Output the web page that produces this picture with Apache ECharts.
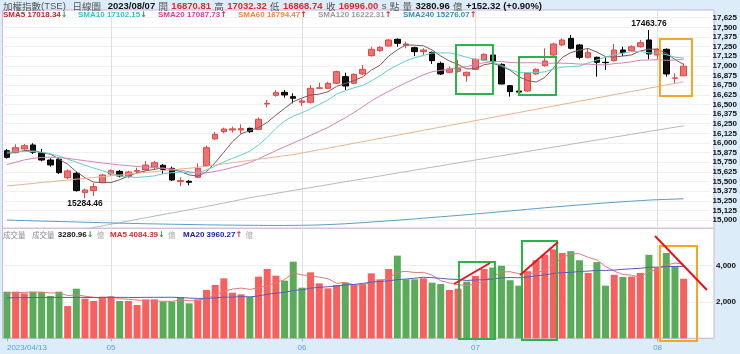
<!DOCTYPE html>
<html><head><meta charset="utf-8">
<script src="https://cdn.jsdelivr.net/npm/echarts@6/dist/echarts.min.js"></script>
<style>html,body{margin:0;padding:0;background:#dcedf9;}#c{width:740px;height:354px;}</style>
</head><body><div id="c"></div>
<script>
// ---------------- data ----------------
const dates = ['2023/04/13','2023/04/14','2023/04/17','2023/04/18','2023/04/19','2023/04/20','2023/04/21','2023/04/24','2023/04/25','2023/04/26','2023/04/27','2023/04/28',
'2023/05/02','2023/05/03','2023/05/04','2023/05/05','2023/05/08','2023/05/09','2023/05/10','2023/05/11','2023/05/12','2023/05/15','2023/05/16','2023/05/17','2023/05/18','2023/05/19','2023/05/22','2023/05/23','2023/05/24','2023/05/25','2023/05/26','2023/05/29','2023/05/30','2023/05/31',
'2023/06/01','2023/06/02','2023/06/05','2023/06/06','2023/06/07','2023/06/08','2023/06/09','2023/06/12','2023/06/13','2023/06/14','2023/06/15','2023/06/16','2023/06/19','2023/06/20','2023/06/21','2023/06/26','2023/06/27','2023/06/28','2023/06/29','2023/06/30',
'2023/07/03','2023/07/04','2023/07/05','2023/07/06','2023/07/07','2023/07/10','2023/07/11','2023/07/12','2023/07/13','2023/07/14','2023/07/17','2023/07/18','2023/07/19','2023/07/20','2023/07/21','2023/07/24','2023/07/25','2023/07/26','2023/07/27','2023/07/28','2023/07/31',
'2023/08/01','2023/08/02','2023/08/04','2023/08/07'];
const opens = [15900,15874,15922,15974,15874,15779,15788,15550,15607,15356,15382,15485,15598,15632,15563,15632,15650,15684,15710,15671,15498,15503,15555,15706,16052,16147,16168,16168,16190,16177,16505,16618,16657,16601,16527,16527,16709,16709,16774,16860,16774,16895,17133,17198,17258,17345,17267,17236,17185,17176,17033,16917,16930,16873,16955,17076,17141,17020,16743,16674,16674,16895,17003,17141,17271,17357,17271,17111,17111,17046,17068,17206,17198,17249,17336,17141,17215,16839,16870.81];
const highs = [15922,15983,15987,15996,15922,15801,15801,15658,15628,15408,15477,15598,15658,15650,15641,15680,15766,15766,15727,15693,15555,15520,15736,15965,16143,16199,16212,16242,16199,16333,16558,16687,16687,16644,16570,16752,16782,16795,16938,16912,16903,17012,17249,17258,17349,17357,17314,17249,17228,17185,17055,16990,17076,16925,17098,17163,17163,17033,16752,16709,16912,16968,17228,17301,17357,17401,17284,17228,17120,17107,17284,17249,17267,17336,17463.76,17228,17228,16903,17032.32];
const lows = [15797,15866,15900,15857,15762,15693,15598,15529,15369,15284.46,15313,15477,15572,15555,15542,15598,15641,15650,15598,15507,15442,15451,15546,15693,16039,16125,16134,16121,16130,16168,16462,16601,16588,16514,16480,16514,16700,16700,16765,16687,16765,16882,17120,17185,17249,17249,17228,17128,17141,17025,16882,16904,16912,16795,16947,17068,17042,16761,16601,16636,16666,16882,16990,17128,17258,17215,17085,17098,16860,16947,17055,17128,17185,17236,17085,17085,16860,16765,16868.74];
const closes = [15814,15939,15965,15879,15779,15715,15615,15637,15382,15390,15434,15585,15641,15572,15624,15641,15714,15745,15658,15520,15512,15490,15671,15939,16112,16181,16183,16186,16147,16307,16514,16653,16623,16580,16545,16709,16715,16774,16925,16739,16890,16955,17215,17241,17336,17293,17284,17185,17206,17068,16895,16960,16965,16917,17085,17150,17055,16765,16666,16660,16903,16955,17063,17284,17336,17228,17111,17172,17046,17042,17206,17172,17249,17301,17154,17215,16895,16843.68,16996.00];
const volumes = [2569,2569,2477,2569,2550,2330,2569,1779,2734,2183,2054,2293,2293,2054,2054,1834,2146,2146,2018,2018,2256,1926,2146,2660,2936,3303,2514,2422,2293,3395,3818,3450,3175,4222,2789,3634,3028,2752,2936,3065,2936,2991,3579,3248,3818,4553,3248,3248,3303,3065,2991,2660,2734,3120,3432,3818,3900,4000,3200,2900,3700,4300,4600,4900,4700,4800,4300,3600,4200,2900,3500,3383,3400,3600,4600,3900,4700,3941,3280.96];
const sma5 = [15860,15880,15900,15905,15875,15855,15791,15725,15626,15548,15492,15486,15486,15524,15571,15613,15638,15659,15676,15656,15630,15585,15570,15626,15745,15879,16017,16120,16161,16200,16267,16361,16449,16535,16583,16622,16634,16665,16734,16772,16809,16857,16945,17008,17127,17208,17274,17268,17261,17207,17128,17063,17019,16961,16964,17015,17034,16994,16944,16859,16810,16790,16849,16973,17108,17173,17204,17226,17179,17120,17115,17128,17143,17194,17216,17218,17163,17082,17018.34];
const sma10 = [15880,15885,15890,15888,15880,15860,15830,15790,15750,15712,15674,15639,15606,15575,15560,15553,15562,15573,15600,15614,15622,15612,15615,15651,15701,15755,15801,15845,15894,15973,16073,16189,16285,16348,16392,16445,16498,16557,16635,16678,16716,16746,16805,16871,16950,17009,17066,17107,17135,17167,17168,17169,17144,17111,17086,17072,17049,17007,16953,16912,16913,16912,16922,16959,16984,16992,16997,17038,17076,17114,17144,17166,17185,17187,17168,17167,17146,17113,17102.15];
const sma20 = [15720,15750,15780,15800,15812,15815,15810,15800,15785,15770,15755,15740,15728,15715,15705,15695,15688,15680,15672,15663,15648,15626,15611,15613,15631,15654,15682,15709,15747,15794,15848,15901,15950,16000,16047,16100,16150,16201,16265,16326,16395,16468,16545,16610,16671,16727,16782,16832,16885,16923,16942,16958,16975,16991,17018,17041,17058,17057,17044,17040,17041,17041,17033,17035,17035,17032,17023,17023,17015,17013,17029,17039,17054,17073,17076,17080,17072,17076,17087.73];
const sma60 = [15442,15452,15464,15474,15487,15496,15509,15518,15531,15540,15553,15562,15575,15584,15597,15606,15619,15628,15641,15650,15663,15672,15685,15698,15715,15728,15745,15758,15775,15788,15805,15818,15835,15848,15871,15890,15913,15932,15955,15974,15997,16016,16039,16058,16081,16100,16123,16142,16165,16184,16207,16226,16249,16268,16291,16310,16333,16352,16375,16394,16417,16436,16459,16478,16501,16520,16543,16562,16585,16604,16627,16646,16669,16688,16711,16730,16753,16772,16794.47];
const sma120 = [14690,14712,14735,14756,14776,14798,14819,14840,14860,14881,14903,14925,14946,14966,14987,15009,15030,15051,15072,15092,15113,15134,15154,15176,15198,15220,15243,15266,15290,15309,15327,15346,15365,15384,15403,15421,15440,15459,15478,15497,15516,15535,15553,15572,15591,15610,15629,15648,15667,15686,15704,15723,15742,15761,15779,15798,15816,15834,15853,15871,15890,15908,15927,15946,15964,15983,16002,16020,16039,16057,16076,16094,16113,16131,16150,16168,16186,16204,16222.31];
const sma240 = [15000,14997,14994,14990,14987,14984,14981,14978,14975,14972,14969,14966,14963,14960,14957,14955,14952,14950,14948,14946,14944,14942,14940,14938,14937,14935,14934,14933,14932,14931,14930,14930,14930,14931,14932,14934,14937,14941,14946,14952,14959,14966,14974,14982,14990,14998,15006,15015,15024,15033,15042,15051,15060,15069,15079,15089,15099,15109,15119,15129,15139,15149,15159,15169,15178,15187,15196,15205,15214,15222,15230,15238,15245,15252,15259,15264,15268,15272,15276.07];
const volMa5 = [2500,2520,2530,2540,2547,2499,2499,2359,2392,2319,2264,2209,2311,2175,2150,2106,2076,2047,2040,2032,2117,2073,2073,2201,2385,2594,2712,2767,2694,2785,2888,3076,3226,3612,3491,3454,3370,3285,3028,3083,2943,2936,3101,3164,3314,3638,3689,3623,3634,3483,3171,3053,2951,2914,2987,3153,3401,3654,3670,3564,3540,3620,3740,4080,4440,4660,4660,4460,4320,3960,3700,3517,3477,3357,3697,3777,4040,4148,4084.39];
const volMa20 = [2230,2235,2240,2245,2250,2250,2255,2250,2255,2250,2245,2250,2255,2255,2250,2250,2255,2258,2260,2262,2247,2214,2198,2202,2222,2270,2268,2300,2278,2338,2426,2484,2528,2637,2673,2763,2808,2838,2884,2936,2970,3024,3095,3125,3168,3231,3268,3309,3360,3343,3302,3262,3240,3185,3217,3226,3270,3332,3346,3337,3376,3441,3492,3575,3619,3631,3684,3701,3746,3738,3763,3800,3833,3857,3915,3919,3959,3956,3960.27];
const maNames = ['SMA5','SMA10','SMA20','SMA60','SMA120','SMA240'];
const monthStarts = ['2023/04/13','2023/05/02','2023/06/01','2023/07/03','2023/08/01'];
const monthLabels = ['2023/04/13','05','06','07','08'];
const priceTickMin = 15000, priceTickMax = 17625, priceTickStep = 125;
const volTickMin = 2000, volTickMax = 4000, volTickStep = 2000;
// annotations (x in bar-index units, y in axis units)
const upperBoxes = [[51.76,17271,56.02,16635,'g'],[59.02,17115,63.29,16622,'g'],[75.27,17349,78.96,16609,'o']];
const lowerBoxes = [[52.1,4204,56.25,-39,'g'],[59.37,5361,63.4,-94,'g'],[75.27,5085,79.54,-149,'o']];
const trendLines = [[51.53,2992,55.68,4149],[59.14,3488,63.52,5306],[74.7,5636,80.69,2661]];

// ---------------- styles ----------------
const SLOTS = 82;
const L = 2.6, W = 711.4;
const FONT = '"Liberation Sans", Arial, sans-serif';
const CJK = '"Noto Sans CJK TC","Noto Sans CJK SC",sans-serif';
const UP = '#f37070', UPB = '#e04848', DN = '#111111', DNB = '#000000';
const VUP = '#f95f5f', VDN = '#5aac5a';
const GREEN = '#2bb24c', ORANGE = '#f5a623', RED = '#e8141c';
const maLineColors = ['#7d5a5a','#62cfcf','#d383b9','#e9b38c','#b9b9b9','#5a9ec8'];
const maTextColors = ['#c0262c','#2fc3c3','#e2379a','#f08646','#9a9a9a','#2f8cc2'];
const maX = [3,78,158,238,318,403];

const isMonth = (i, v) => monthStarts.indexOf(v) >= 0;
const volColors = volumes.map((v, i) => (closes[i] >= (i > 0 ? closes[i-1] : opens[0])) ? VUP : VDN);
let hiIdx = 0, loIdx = 0;
highs.forEach((h, i) => { if (h > highs[hiIdx]) hiIdx = i; });
lows.forEach((l, i) => { if (l < lows[loIdx]) loIdx = i; });
const N = dates.length - 1;
const mas = [sma5, sma10, sma20, sma60, sma120, sma240];
const arrow = (a) => a[N] >= a[N-1] ? '{au|↑}' : '{ad|↓}';

const chart = echarts.init(document.getElementById('c'), null, {renderer: 'canvas', width: 740, height: 354});

const monthLineData = monthStarts.slice(1).map(d => ({xAxis: d}));
const monthLine = {silent: true, symbol: ['none','none'], label: {show: false}, z: 1,
  lineStyle: {color: '#e0e0e0', width: 1, type: 'solid'}, emphasis: {disabled: true}, data: monthLineData};

const series = [];
series.push({type: 'line', xAxisIndex: 0, yAxisIndex: 0, data: [], silent: true, markLine: monthLine});
series.push({type: 'line', xAxisIndex: 1, yAxisIndex: 1, data: [], silent: true, markLine: monthLine});
series.push({
  type: 'candlestick', xAxisIndex: 0, yAxisIndex: 0, z: 3, barWidth: 6,
  data: dates.map((d, i) => [opens[i], closes[i], lows[i], highs[i]]),
  itemStyle: {color: UP, color0: DN, borderColor: UPB, borderColor0: DNB, borderWidth: 1},
  markPoint: {
    symbol: 'rect', symbolSize: [1,1], itemStyle: {color: 'rgba(0,0,0,0)'}, silent: true,
    label: {show: true, color: '#111', fontWeight: 'bold', fontSize: 8.5, fontFamily: FONT},
    data: [
      {coord: [dates[hiIdx], highs[hiIdx]], label: {position: 'top', distance: 1, formatter: highs[hiIdx].toFixed(2)}},
      {coord: [dates[loIdx], lows[loIdx]], label: {position: 'bottom', distance: 1, formatter: lows[loIdx].toFixed(2)}}
    ]
  }
});
mas.forEach((arr, k) => series.push({type: 'line', xAxisIndex: 0, yAxisIndex: 0, data: arr, symbol: 'none', z: 4,
  lineStyle: {width: 1, color: maLineColors[k]}, silent: true}));
series.push({type: 'bar', xAxisIndex: 1, yAxisIndex: 1, barWidth: 7, z: 2,
  data: volumes.map((v, i) => ({value: v, itemStyle: {color: volColors[i]}}))});
series.push({type: 'line', xAxisIndex: 1, yAxisIndex: 1, data: volMa5, symbol: 'none', z: 4, lineStyle: {width: 1, color: '#e07a7a'}, silent: true});
series.push({type: 'line', xAxisIndex: 1, yAxisIndex: 1, data: volMa20, symbol: 'none', z: 4, lineStyle: {width: 1, color: '#5a5ab8'}, silent: true});
const boxColor = c => c === 'g' ? GREEN : ORANGE;
series.push({type: 'line', xAxisIndex: 2, yAxisIndex: 0, data: [], silent: true,
  markArea: {silent: true, z: 10, itemStyle: {color: 'rgba(0,0,0,0)', borderWidth: 2},
    data: upperBoxes.map(b => [{coord: [b[0], b[1]], itemStyle: {borderColor: boxColor(b[4]), borderWidth: 2, color: 'rgba(0,0,0,0)'}}, {coord: [b[2], b[3]]}])}});
series.push({type: 'line', xAxisIndex: 5, yAxisIndex: 4, data: [], silent: true,
  markArea: {silent: true, z: 10, itemStyle: {color: 'rgba(0,0,0,0)', borderWidth: 2},
    data: lowerBoxes.map(b => [{coord: [b[0], b[1]], itemStyle: {borderColor: boxColor(b[4]), borderWidth: 2, color: 'rgba(0,0,0,0)'}}, {coord: [b[2], b[3]]}])},
  markLine: {silent: true, z: 11, symbol: ['none','none'], label: {show: false}, lineStyle: {color: RED, width: 2, type: 'solid'},
    data: trendLines.map(t => [{coord: [t[0], t[1]]}, {coord: [t[2], t[3]]}])}});

const hdrRich = {
  g: {fill: '#555', fontSize: 9.5, fontFamily: CJK},
  gl: {fill: '#555', fontSize: 9.5, fontFamily: FONT},
  b: {fill: '#111', fontSize: 9.5, fontWeight: 'bold', fontFamily: FONT},
  r: {fill: '#e3262b', fontSize: 9.5, fontWeight: 'bold', fontFamily: FONT}
};
const chg = closes[N] - closes[N-1];
const pct = chg / closes[N-1] * 100;
const header = '{g|加權指數}{gl|(TSE)}  {g|日線圖}  {b|' + dates[N] + '} {g|開} {r|' + opens[N].toFixed(2) + '} {g|高} {r|' + highs[N].toFixed(2) +
  '} {g|低} {r|' + lows[N].toFixed(2) + '} {g|收} {r|' + closes[N].toFixed(2) + '} {gl|s} {g|點} {g|量} {b|' + volumes[N].toFixed(2) + '} {g|億} {b|' +
  (chg >= 0 ? '+' : '') + chg.toFixed(2) + ' (' + (pct >= 0 ? '+' : '') + pct.toFixed(2) + '%)}';

const arrowRich = {au: {fill: '#e02020', fontSize: 8, fontWeight: 'bold', fontFamily: '"DejaVu Sans"'}, ad: {fill: '#2a9a3a', fontSize: 8, fontWeight: 'bold', fontFamily: '"DejaVu Sans"'}};
const graphics = [{type: 'text', x: 3, y: 6, silent: true, style: {text: header, rich: hdrRich, verticalAlign: 'middle'}}];
maNames.forEach((n, k) => {
  const rich = Object.assign({n: {fill: maTextColors[k], fontSize: 8, fontWeight: 'bold', fontFamily: FONT}}, arrowRich);
  graphics.push({type: 'text', x: maX[k], y: 15, silent: true, z: 20,
    style: {text: '{n|' + n + ' ' + mas[k][N].toFixed(2) + '}' + arrow(mas[k]), rich: rich, verticalAlign: 'middle'}});
});
const volRich = Object.assign({
  g: {fill: '#8a8a8a', fontSize: 7.5, fontFamily: CJK},
  u: {fill: '#a8a8a8', fontSize: 7.5, fontFamily: CJK},
  b: {fill: '#111', fontSize: 8, fontWeight: 'bold', fontFamily: FONT},
  r: {fill: '#e02a2a', fontSize: 8, fontWeight: 'bold', fontFamily: FONT},
  bl: {fill: '#2020b0', fontSize: 8, fontWeight: 'bold', fontFamily: FONT}
}, arrowRich);
graphics.push({type: 'text', x: 3, y: 235, z: 20, silent: true, style: {text: '{g|成交量}', rich: volRich, verticalAlign: 'middle'}});
graphics.push({type: 'text', x: 32, y: 235, z: 20, silent: true, style: {text: '{g|成交量} {b|' + volumes[N].toFixed(2) + '}' + arrow(volumes) + ' {u|億}', rich: volRich, verticalAlign: 'middle'}});
graphics.push({type: 'text', x: 110, y: 235, z: 20, silent: true, style: {text: '{r|MA5 ' + volMa5[N].toFixed(2) + '}' + arrow(volMa5) + ' {u|億}', rich: volRich, verticalAlign: 'middle'}});
graphics.push({type: 'text', x: 183, y: 235, z: 20, silent: true, style: {text: '{bl|MA20 ' + volMa20[N].toFixed(2) + '}' + arrow(volMa20) + ' {u|億}', rich: volRich, verticalAlign: 'middle'}});

const rightLabel = {margin: 2, color: '#111', fontWeight: 'bold', fontSize: 8, fontFamily: FONT};
const option = {
  backgroundColor: '#dcedf9',
  animation: false,
  grid: [
    {left: L, width: W, top: 10, height: 218.3, show: true, backgroundColor: '#fff', borderColor: '#cdb2da', borderWidth: 1},
    {left: L, width: W, top: 228.3, height: 110, show: true, backgroundColor: '#fff', borderColor: '#cdb2da', borderWidth: 1},
    {left: L, width: W, top: 17.7, height: 202.4, show: false},
    {left: L, width: W, top: 265.7, height: 36.3, show: false},
    {left: L, width: W, top: 228.3, height: 115, show: false}
  ],
  xAxis: [
    {type: 'category', gridIndex: 0, data: dates, max: SLOTS - 1, show: false},
    {type: 'category', gridIndex: 1, data: dates, max: SLOTS - 1,
      axisLine: {show: false},
      axisTick: {show: true, alignWithLabel: true, interval: isMonth, length: 3, lineStyle: {color: '#86b6dc'}},
      axisLabel: {interval: isMonth, formatter: v => monthLabels[monthStarts.indexOf(v)] || '', color: '#5b9fd3', fontSize: 8, margin: 5, alignMinLabel: 'left', fontFamily: FONT},
      splitLine: {show: false}},
    {type: 'value', gridIndex: 0, min: -0.5, max: SLOTS - 0.5, show: false},
    {type: 'category', gridIndex: 2, data: dates, show: false},
    {type: 'category', gridIndex: 3, data: dates, show: false},
    {type: 'value', gridIndex: 4, min: -0.5, max: SLOTS - 0.5, show: false}
  ],
  yAxis: [
    {type: 'value', gridIndex: 0, min: 14893, max: 17725, show: false},
    {type: 'value', gridIndex: 1, min: 0, max: 6061, show: false},
    {type: 'value', gridIndex: 2, min: priceTickMin, max: priceTickMax, interval: priceTickStep, position: 'right',
      axisLine: {show: false}, axisTick: {show: false}, axisLabel: rightLabel, splitLine: {lineStyle: {color: '#f0f0f0'}}},
    {type: 'value', gridIndex: 3, min: volTickMin, max: volTickMax, interval: volTickStep, position: 'right',
      axisLine: {show: false}, axisTick: {show: false}, axisLabel: rightLabel, splitLine: {lineStyle: {color: '#eeeeee'}}},
    {type: 'value', gridIndex: 4, min: -275, max: 6061, show: false}
  ],
  series: series,
  graphic: graphics
};
chart.setOption(option);
</script></body></html>
